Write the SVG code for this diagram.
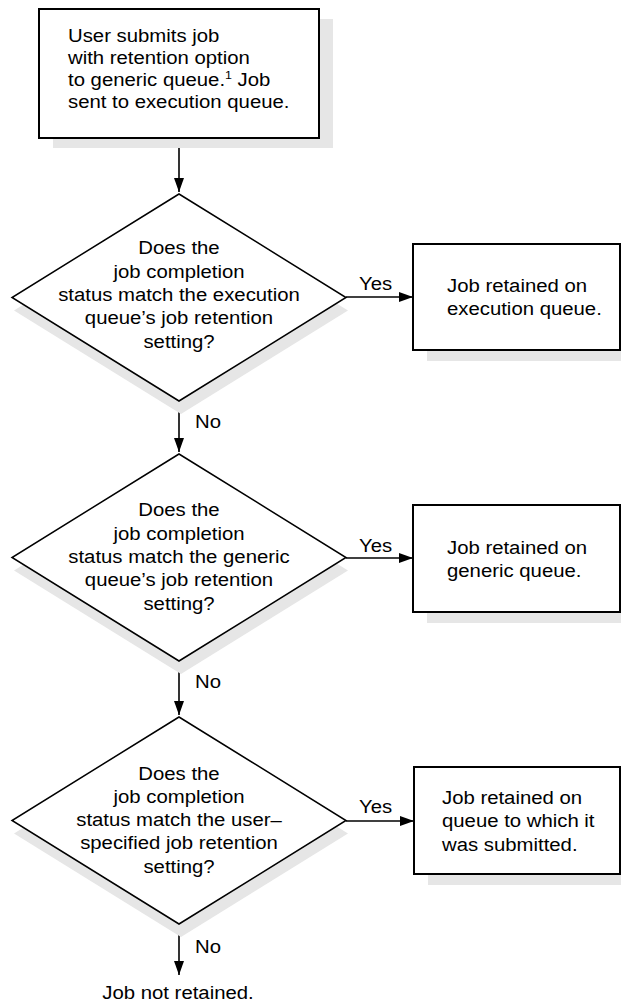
<svg xmlns="http://www.w3.org/2000/svg" width="621" height="1003" viewBox="0 0 621 1003">
<style>
text{font-family:"Liberation Sans",Arial,sans-serif;font-size:18px;fill:#000}
.box{fill:#fff;stroke:#000;stroke-width:2}
.dia{fill:#fff;stroke:#000;stroke-width:1.5}
.sh{fill:#e6e6e6;stroke:none}
.con{stroke:#000;stroke-width:1.6;fill:none;marker-end:url(#ah)}
.c{text-anchor:middle}
</style>
<defs>
<marker id="ah" markerUnits="userSpaceOnUse" markerWidth="15" markerHeight="11" refX="14" refY="5" orient="auto">
<path d="M0,0 L14,5 L0,10 z" fill="#000"/>
</marker>
</defs>
<rect width="621" height="1003" fill="#fff"/>

<g id="connectors">
<line class="con" x1="179" y1="138" x2="179" y2="192"/>
<line class="con" x1="179" y1="401" x2="179" y2="452"/>
<line class="con" x1="179" y1="661" x2="179" y2="715"/>
<line class="con" x1="179" y1="924" x2="179" y2="975"/>
<line class="con" x1="346" y1="297" x2="413" y2="297"/>
<line class="con" x1="346" y1="558" x2="413" y2="558"/>
<line class="con" x1="346" y1="821" x2="414" y2="821"/>
<g transform="translate(359,0) scale(1.13,1)">
<text x="0" y="290">Yes</text>
<text x="0" y="552">Yes</text>
<text x="0" y="813">Yes</text>
</g>
<g transform="translate(195,0) scale(1.13,1)">
<text x="0" y="428">No</text>
<text x="0" y="688">No</text>
<text x="0" y="953">No</text>
</g>
</g>

<g id="start">
<rect class="sh" x="53" y="19" width="280" height="129"/>
<rect class="box" x="39" y="9" width="280" height="129"/>
<g transform="translate(68,0) scale(1.13,1)">
<text x="0" y="42">User submits job</text>
<text x="0" y="64">with retention option</text>
<text x="0" y="86">to generic queue.<tspan font-size="11" dy="-7">1</tspan><tspan dy="7"> Job</tspan></text>
<text x="0" y="108">sent to execution queue.</text>
</g>
</g>

<g id="decision1">
<polygon class="sh" points="181,207 348,310.5 181,414 14,310.5"/>
<polygon class="dia" points="179,194 346,297.5 179,401 12,297.5"/>
<g transform="translate(179,0) scale(1.13,1)" class="c">
<text x="0" y="254">Does the</text>
<text x="0" y="278">job completion</text>
<text x="0" y="301">status match the execution</text>
<text x="0" y="324">queue’s job retention</text>
<text x="0" y="348">setting?</text>
</g>
</g>

<g id="retain-exec">
<rect class="sh" x="427" y="255" width="210" height="106"/>
<rect class="box" x="413" y="244" width="207" height="106"/>
<g transform="translate(447,0) scale(1.13,1)">
<text x="0" y="292.5">Job retained on</text>
<text x="0" y="315.5">execution queue.</text>
</g>
</g>

<g id="decision2">
<polygon class="sh" points="181,467 348,570.5 181,674 14,570.5"/>
<polygon class="dia" points="179,454 346,557.5 179,661 12,557.5"/>
<g transform="translate(179,0) scale(1.13,1)" class="c">
<text x="0" y="516">Does the</text>
<text x="0" y="540">job completion</text>
<text x="0" y="563">status match the generic</text>
<text x="0" y="586">queue’s job retention</text>
<text x="0" y="610">setting?</text>
</g>
</g>

<g id="retain-generic">
<rect class="sh" x="427" y="516" width="210" height="107"/>
<rect class="box" x="413" y="505" width="207" height="107"/>
<g transform="translate(447,0) scale(1.13,1)">
<text x="0" y="554">Job retained on</text>
<text x="0" y="577">generic queue.</text>
</g>
</g>

<g id="decision3">
<polygon class="sh" points="181,730 348,833.5 181,937 14,833.5"/>
<polygon class="dia" points="179,717 346,820.5 179,924 12,820.5"/>
<g transform="translate(179,0) scale(1.13,1)" class="c">
<text x="0" y="780">Does the</text>
<text x="0" y="803">job completion</text>
<text x="0" y="826">status match the user–</text>
<text x="0" y="849">specified job retention</text>
<text x="0" y="873">setting?</text>
</g>
</g>

<g id="retain-submitted">
<rect class="sh" x="428" y="778" width="210" height="107"/>
<rect class="box" x="414" y="767" width="206" height="107"/>
<g transform="translate(442,0) scale(1.13,1)">
<text x="0" y="804">Job retained on</text>
<text x="0" y="827">queue to which it</text>
<text x="0" y="851">was submitted.</text>
</g>
</g>

<g id="end">
<g transform="translate(178,0) scale(1.13,1)">
<text x="0" y="999" class="c">Job not retained.</text>
</g>
</g>
</svg>
